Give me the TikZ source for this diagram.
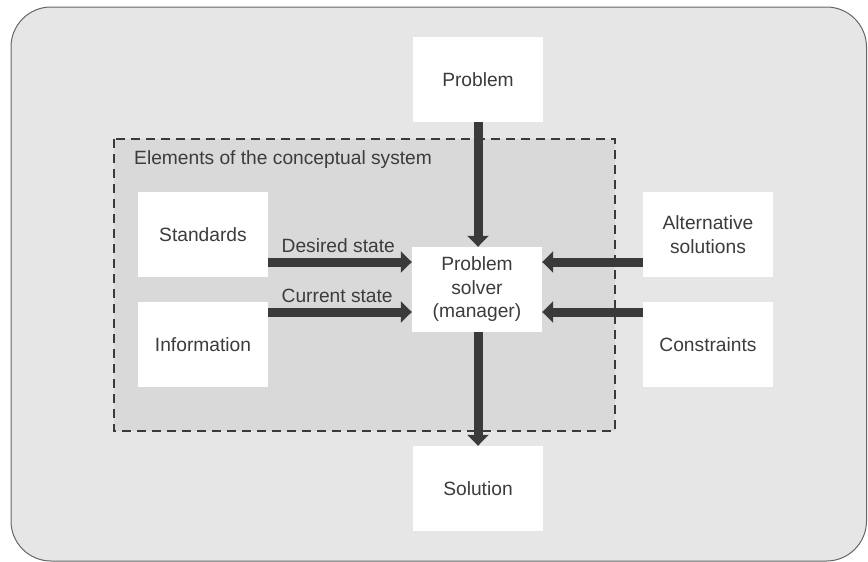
\documentclass[tikz,border=0pt]{standalone}
\usepackage{fontspec}
\setmainfont{Liberation Sans}
\usetikzlibrary{arrows.meta}
\definecolor{outerfill}{HTML}{E6E6E6}
\definecolor{innerfill}{HTML}{D9D9D9}
\definecolor{darkline}{HTML}{3A3A3A}
\definecolor{textgray}{HTML}{3C3C3C}
\tikzset{
  box/.style={fill=white,minimum width=130pt,minimum height=85pt,align=center,
    text=textgray,font=\fontsize{19.2}{23.5}\selectfont},
  flow/.style={draw=darkline,line width=9pt,-{Triangle[length=11pt,width=21pt]}},
  lbl/.style={text=textgray,font=\fontsize{19.2}{22}\selectfont,inner sep=3pt}
}
\begin{document}
\begin{tikzpicture}[x=1pt,y=-1pt]
 \useasboundingbox (0,0) rectangle (868,562);
 % background frames
 \draw[fill=outerfill,draw=gray!80!black,line width=1pt,rounded corners=40pt](11,7) rectangle (866.5,561);
 \draw[fill=innerfill,draw=darkline,line width=1.8pt,dash pattern=on 9pt off 6pt](114,139) rectangle (615,431);
 \node[lbl,anchor=west] (elem) at (131,160) {Elements of the conceptual system};
 % boxes
 \node[box] (prob) at (478,79.5) {Problem};
 \node[box] (std) at (203,234.5) {Standards};
 \node[box] (info) at (203,344.5) {Information};
 \node[box] (solver) at (477,289.5) {Problem\\solver\\(manager)};
 \node[box] (alt) at (708,234.5) {Alternative\\solutions};
 \node[box] (cons) at (708,344.5) {Constraints};
 \node[box] (sol) at (478,488.5) {Solution};
 % arrows
 \draw[flow] (prob.south) -- (prob.south |- solver.north);
 \draw[flow] (prob.south |- solver.south) -- (sol.north);
 \draw[flow] ([yshift=-27.5pt]std.east) -- ([yshift=-27.5pt]std.east -| solver.west)
   node[lbl,pos=0,anchor=south west,xshift=6pt,yshift=2pt] (desired) {Desired state};
 \draw[flow] ([yshift=32.5pt]info.east) -- ([yshift=32.5pt]info.east -| solver.west)
   node[lbl,pos=0,anchor=south west,xshift=6pt,yshift=2pt] (current) {Current state};
 \draw[flow] ([yshift=-27.5pt]alt.west) -- ([yshift=-27.5pt]alt.west -| solver.east);
 \draw[flow] ([yshift=32.5pt]cons.west) -- ([yshift=32.5pt]cons.west -| solver.east);
\end{tikzpicture}
\end{document}
